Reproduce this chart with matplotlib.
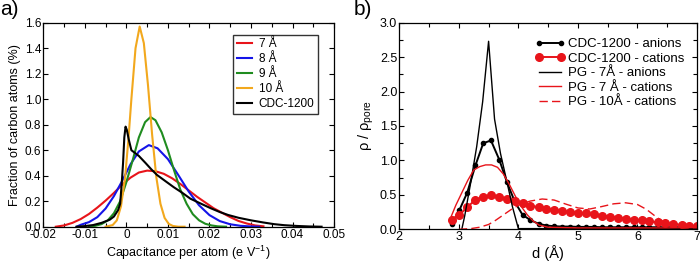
import matplotlib
matplotlib.use("Agg")
import matplotlib.pyplot as plt
from matplotlib.ticker import MultipleLocator, FormatStrFormatter

plt.rcParams["font.family"] = ["Liberation Sans", "DejaVu Sans"]
plt.rcParams["mathtext.fontset"] = "custom"
plt.rcParams["mathtext.rm"] = "Liberation Sans"
plt.rcParams["mathtext.it"] = "Liberation Sans:italic"
plt.rcParams["axes.unicode_minus"] = False

# =========================
# Panel a) data
# =========================

red_x = [-0.017, -0.015, -0.013, -0.011, -0.009, -0.007, -0.005, -0.003, -0.001,
         0.001, 0.003, 0.005, 0.007, 0.009, 0.011, 0.013, 0.015, 0.017, 0.019,
         0.021, 0.023, 0.025, 0.027, 0.029, 0.031, 0.033]
red_y = [0.0, 0.01, 0.03, 0.06, 0.10, 0.15, 0.205, 0.265, 0.33,
         0.385, 0.425, 0.44, 0.435, 0.415, 0.38, 0.335, 0.285, 0.235, 0.19,
         0.145, 0.11, 0.075, 0.045, 0.025, 0.01, 0.003]

blue_x = [-0.012, -0.011, -0.009, -0.007, -0.005, -0.003, -0.001, 0.001, 0.003,
          0.0054, 0.0075, 0.010, 0.0125, 0.015, 0.0175, 0.020, 0.0225, 0.025,
          0.0275, 0.030, 0.032]
blue_y = [0.0, 0.015, 0.036, 0.075, 0.143, 0.24, 0.36, 0.49, 0.59,
          0.64, 0.615, 0.53, 0.405, 0.276, 0.168, 0.091, 0.044, 0.019,
          0.007, 0.002, 0.0]

green_x = [-0.009, -0.0075, -0.006, -0.0045, -0.003, -0.0015, 0.0, 0.0015, 0.003,
           0.0045, 0.0058, 0.007, 0.0085, 0.010, 0.0115, 0.013, 0.0145, 0.016,
           0.0175, 0.019, 0.0205, 0.022, 0.024]
green_y = [0.0, 0.007, 0.02, 0.049, 0.106, 0.20, 0.35, 0.52, 0.70,
           0.82, 0.86, 0.835, 0.74, 0.60, 0.44, 0.29, 0.18, 0.098,
           0.05, 0.023, 0.01, 0.003, 0.0]

orange_x = [-0.005, -0.0033, -0.0023, -0.0013, -0.0003, 0.0005, 0.0012, 0.0022,
            0.0032, 0.0042, 0.0052, 0.0062, 0.0072, 0.0082, 0.0092, 0.0102,
            0.0112, 0.0125, 0.014]
orange_y = [0.0, 0.013, 0.05, 0.16, 0.39, 0.69, 1.0, 1.40,
            1.57, 1.44, 1.11, 0.72, 0.39, 0.18, 0.069, 0.022,
            0.006, 0.0, 0.0]

black_x = [-0.012, -0.010, -0.008, -0.006, -0.004, -0.003, -0.002, -0.0015,
           -0.0011, -0.0008, -0.0005, -0.0002, 0.0001, 0.0006, 0.0012, 0.002,
           0.003, 0.0046, 0.006, 0.0074, 0.0095, 0.0114, 0.0135, 0.0154, 0.018,
           0.0203, 0.0225, 0.0245, 0.027, 0.030, 0.033, 0.0356, 0.038, 0.041,
           0.044, 0.047]
black_y = [0.0, 0.005, 0.013, 0.03, 0.055, 0.08, 0.13, 0.18,
           0.35, 0.50, 0.70, 0.785, 0.76, 0.68, 0.60, 0.58,
           0.555, 0.50, 0.45, 0.405, 0.355, 0.31, 0.265, 0.22, 0.18,
           0.145, 0.115, 0.092, 0.07, 0.05, 0.033, 0.02, 0.012, 0.006,
           0.002, 0.0]

a_labels = ["7 Å", "8 Å", "9 Å", "10 Å", "CDC-1200"]
a_colors = ["#e8141a", "#1414e8", "#1f8c1f", "#f2a81d", "black"]
a_xticks = [-0.02, -0.01, 0.0, 0.01, 0.02, 0.03, 0.04, 0.05]
a_xticklabels = ["-0.02", "-0.01", "0", "0.01", "0.02", "0.03", "0.04", "0.05"]

# =========================
# Panel b) data
# =========================

cdc_d = [2.88, 3.01, 3.14, 3.28, 3.41, 3.54, 3.68, 3.81, 3.94, 4.07, 4.20,
         4.34, 4.47, 4.60, 4.74, 4.87, 5.00, 5.14, 5.27, 5.40, 5.54, 5.67,
         5.80, 5.94, 6.07, 6.20, 6.34, 6.47, 6.60, 6.74, 6.87, 7.00]
cdc_anions = [0.08, 0.28, 0.53, 0.93, 1.25, 1.29, 1.01, 0.68, 0.40, 0.21, 0.135,
              0.08, 0.055, 0.045, 0.04, 0.04, 0.035, 0.035, 0.035, 0.03, 0.03, 0.03,
              0.03, 0.03, 0.03, 0.03, 0.03, 0.03, 0.03, 0.03, 0.03, 0.03]
cdc_cations = [0.14, 0.21, 0.32, 0.43, 0.47, 0.495, 0.47, 0.44, 0.41, 0.38, 0.345,
               0.32, 0.30, 0.28, 0.265, 0.25, 0.24, 0.23, 0.215, 0.20, 0.185, 0.17,
               0.155, 0.14, 0.13, 0.115, 0.10, 0.09, 0.075, 0.065, 0.055, 0.05]

pg7_an_d = [3.05, 3.1, 3.2, 3.3, 3.4, 3.5, 3.6, 3.7, 3.8, 3.9, 4.0, 4.5, 5.0,
            5.5, 6.0, 6.5, 7.0]
pg7_an = [0.0, 0.2, 0.68, 1.2, 1.85, 2.73, 1.6, 1.1, 0.72, 0.33, 0.01, 0.01, 0.01,
          0.01, 0.01, 0.01, 0.01]

pg7_cat_d = [2.85, 2.95, 3.05, 3.15, 3.25, 3.35, 3.45, 3.55, 3.65, 3.75, 3.85,
             3.95, 4.05, 4.15, 4.25, 4.35, 4.5, 5.0, 5.5, 6.0, 6.5, 7.0]
pg7_cat = [0.14, 0.35, 0.53, 0.71, 0.86, 0.91, 0.935, 0.935, 0.90, 0.80, 0.65,
           0.48, 0.33, 0.21, 0.12, 0.06, 0.03, 0.02, 0.02, 0.02, 0.02, 0.025]

pg10_cat_d = [3.0, 3.2, 3.35, 3.5, 3.6, 3.75, 3.9, 4.05, 4.2, 4.4, 4.6, 4.8, 5.0,
              5.2, 5.4, 5.6, 5.8, 6.0, 6.15, 6.3, 6.45, 6.6, 6.75, 6.9, 7.0]
pg10_cat = [0.0, 0.01, 0.03, 0.07, 0.12, 0.21, 0.30, 0.37, 0.41, 0.44, 0.425,
            0.365, 0.31, 0.295, 0.33, 0.37, 0.385, 0.36, 0.29, 0.19, 0.10, 0.04,
            0.01, 0.0, 0.0]

b_labels = ["CDC-1200 - anions", "CDC-1200 - cations", "PG - 7Å - anions",
            "PG - 7 Å - cations", "PG - 10Å - cations"]
b_red = "#e8141a"


def style_axes(ax, tick_size):
    for sp in ax.spines.values():
        sp.set_linewidth(0.9)
    ax.tick_params(which="both", direction="in", top=True, right=True,
                   width=0.8, labelsize=tick_size, pad=1.5)
    ax.tick_params(which="major", length=3.5)
    ax.tick_params(which="minor", length=3.0)


fig = plt.figure(figsize=(7.0, 2.62), dpi=100)

# ---- panel a ----
ax1 = fig.add_axes([0.0619, 0.1347, 0.4153, 0.7787])
series_a = [(red_x, red_y), (blue_x, blue_y), (green_x, green_y),
            (orange_x, orange_y), (black_x, black_y)]
for (xs, ys), lab, col in zip(series_a, a_labels, a_colors):
    ax1.plot(xs, ys, color=col, lw=1.5, label=lab)

ax1.set_xlim(-0.02, 0.05)
ax1.set_ylim(0, 1.6)
ax1.set_xticks(a_xticks)
ax1.set_xticklabels(a_xticklabels)
ax1.xaxis.set_minor_locator(MultipleLocator(0.005))
ax1.yaxis.set_major_locator(MultipleLocator(0.2))
ax1.yaxis.set_major_formatter(FormatStrFormatter("%.1f"))
style_axes(ax1, 8.5)
ax1.set_xlabel(r"Capacitance per atom (e V$^{\mathregular{-1}}$)", fontsize=9, labelpad=2)
ax1.set_ylabel("Fraction of carbon atoms (%)", fontsize=9, labelpad=3)

leg1 = ax1.legend(loc="upper right", bbox_to_anchor=(0.945, 0.94), fontsize=8.5,
                  frameon=True, fancybox=False, edgecolor="black",
                  borderpad=0.3, borderaxespad=0, handlelength=1.3,
                  handletextpad=0.55, labelspacing=0.25)
leg1.get_frame().set_linewidth(1.0)

# ---- panel b ----
ax2 = fig.add_axes([0.5704, 0.1248, 0.4253, 0.7886])
ax2.plot(cdc_d, cdc_anions, color="black", lw=1.4, marker="o", ms=3.0,
         label=b_labels[0])
ax2.plot(cdc_d, cdc_cations, color=b_red, lw=1.4, marker="o", ms=5.5,
         label=b_labels[1])
ax2.plot(pg7_an_d, pg7_an, color="black", lw=1.0, label=b_labels[2])
ax2.plot(pg7_cat_d, pg7_cat, color=b_red, lw=1.0, label=b_labels[3])
ax2.plot(pg10_cat_d, pg10_cat, color=b_red, lw=1.0, dashes=(6, 3),
         label=b_labels[4])

ax2.set_xlim(2, 7)
ax2.set_ylim(0, 3)
ax2.xaxis.set_major_locator(MultipleLocator(1))
ax2.xaxis.set_minor_locator(MultipleLocator(0.5))
ax2.yaxis.set_major_locator(MultipleLocator(0.5))
ax2.yaxis.set_minor_locator(MultipleLocator(0.25))
ax2.yaxis.set_major_formatter(FormatStrFormatter("%.1f"))
style_axes(ax2, 9)
ax2.set_xlabel("d (Å)", fontsize=10.5, labelpad=1)
ax2.set_ylabel(r"$\mathregular{\rho\ /\ \rho_{pore}}$", fontsize=10.5, labelpad=3)

ax2.legend(loc="upper left", bbox_to_anchor=(0.456, 0.925), fontsize=9.5,
           frameon=False, borderpad=0, borderaxespad=0, handlelength=2.3,
           handletextpad=0.2, labelspacing=0.17, numpoints=2)

fig.text(0.0, 1.0, "a)", fontsize=15, ha="left", va="top")
fig.text(0.505, 1.0, "b)", fontsize=15, ha="left", va="top")

fig.savefig("out.png", dpi=100)
